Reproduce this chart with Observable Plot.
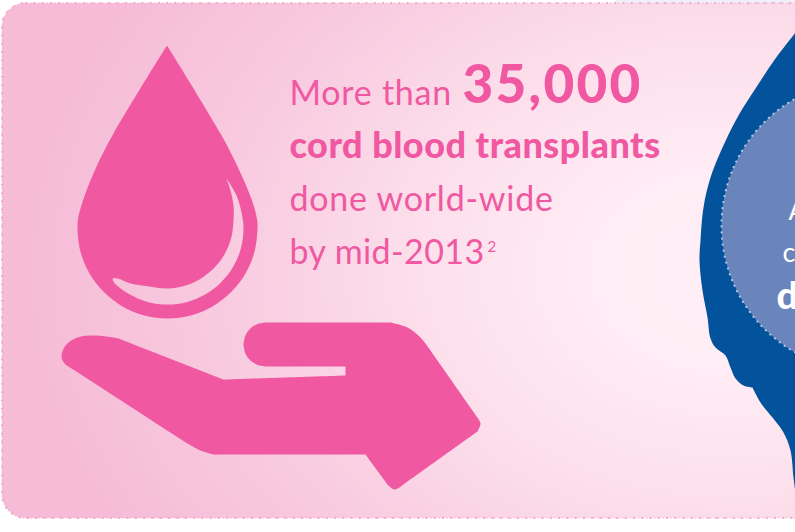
<!DOCTYPE html>
<html><head><meta charset="utf-8">
<script src="https://cdn.jsdelivr.net/npm/d3@7"></script>
<script src="https://cdn.jsdelivr.net/npm/@observablehq/plot@0.6"></script>
<style>
html,body{margin:0;padding:0;background:#fff;width:795px;height:532px;overflow:hidden}
svg{display:block;font-family:Lato,sans-serif}
.wide text{letter-spacing:.75px}
.num text{letter-spacing:2.3px}
.bold text{letter-spacing:.5px}
.year text{letter-spacing:.4px}
</style></head><body>
<script>
const PINK = "#f058a1", NAVY = "#02539b", DISC = "#6a85bc", DISC_DOT = "#b4c4e0", EDGE = "#f7a3ca";
const haze = [{x1: 615, x2: 795, y1: 0, y2: 5}];
const panel = [{x1: 2, x2: 830, y1: 3, y2: 518}];
const dropOutline = [[166.5,45],[166.5,45],[113,133],[95.6,167],[82.5,200],[77.6,218],[77,228],[80,251.3],[89,273],[103.4,291.6],[122,306],[143.7,315],[167,318],[190.3,315],[212,306],[230.6,291.6],[245,273],[254,251.3],[257,228],[256.4,218],[251.5,200],[237.5,167],[220,133],[166.5,45],[166.5,45]];
const glint = [[226,178],[226,178],[236,195],[241,212],[243,228],[240.4,247.7],[232.8,266],[220.7,281.7],[205,293.8],[186.7,301.4],[167,304],[147.3,301.4],[129,293.8],[113.3,281.7],[112,278],[112,278],[117,278],[130,283],[147.4,285.7],[165,288],[182.6,285.7],[199,278.9],[213.1,268.1],[223.9,254],[230.7,237.6],[233,220],[233,205],[230,190],[226,178],[226,178]];
const hand = [[243,344],[244.7,335.6],[249.4,328.4],[256.6,323.7],[265,322],[265,322],[390,322],[390,322],[407,327],[420,337],[430,350],[430,350],[477,417],[477,417],[480,423],[477,431],[477,431],[403,484],[403,484],[394,489],[387,484],[387,484],[365,454],[365,454],[213,454],[213,454],[200,450],[187,443],[187,443],[65,364],[65,364],[61,357],[65,345],[77,337],[95,335],[118,338],[118,338],[223,379],[223,379],[345,375],[345,375],[345,366],[345,366],[265,366],[265,366],[256.6,364.3],[249.4,359.6],[244.7,352.4],[243,344]];
const body = [[795,32],[795,32],[775,58],[755,88],[738,115],[722,147],[710,177],[703,207],[700,240],[699,260],[702,290],[707,317],[710,338],[715,347],[725,355],[730,367],[735,378],[743,385],[752,387],[752,387],[760,402],[772,417],[783,432],[790,450],[793,477],[795,493],[795,493],[830,493],[830,32],[795,32]];
const disc = [{x: 867, y: 225}];
const lines = [
  {t: "More than", x: 289, y: 104, s: 34, w: 400, c: "wide"},
  {t: "35,000", x: 462, y: 102, s: 53, w: 900, c: "num"},
  {t: "cord blood transplants", x: 289, y: 157, s: 36, w: 900, c: "bold"},
  {t: "done world-wide", x: 289, y: 210, s: 34, w: 400, c: "wide"},
  {t: "by mid-2013", x: 289, y: 263, s: 34, w: 400, c: "year"},
  {t: "2", x: 487, y: 251, s: 15, w: 400, c: "wide"}
];
const discText = [
  {t: "A", x: 788, y: 219, s: 26, w: 400},
  {t: "c", x: 782, y: 261, s: 27, w: 400},
  {t: "d", x: 776, y: 308, s: 38, w: 900}
];
const txt = (rows, fill, cls) => rows.map(r => Plot.text([r], {
  x: "x", y: "y", text: "t", fill, fontSize: r.s, fontWeight: r.w,
  textAnchor: "start", lineAnchor: "bottom", className: cls || r.c
}));
const shape = (pts, fill) => Plot.line(pts, {x: d => d[0], y: d => d[1], fill, stroke: "none", curve: "catmull-rom"});
const chart = Plot.plot({
  width: 795, height: 532, margin: 0,
  style: {background: "#fff"},
  x: {domain: [0, 795], range: [0, 795], axis: null},
  y: {domain: [0, 532], range: [0, 532], axis: null},
  marks: [
    () => {
      const s = d3.create("svg:defs");
      const g = s.append("radialGradient").attr("id", "bg").attr("gradientUnits", "userSpaceOnUse")
        .attr("cx", 0).attr("cy", 0).attr("r", 1)
        .attr("gradientTransform", "translate(730 270) scale(700 520)");
      [[0, "#ffeff6"], [.2, "#ffecf4"], [.45, "#fcdfeb"], [.75, "#f8c9df"], [1, "#f6bcd7"]]
        .forEach(([o, c]) => g.append("stop").attr("offset", o).attr("stop-color", c));
      return s.node();
    },
    Plot.rect(haze, {x1: "x1", x2: "x2", y1: "y1", y2: "y2", fill: "#eef1f8"}),
    Plot.rect(panel, {x1: "x1", x2: "x2", y1: "y1", y2: "y2", rx: 24, fill: "url(#bg)", stroke: EDGE, strokeOpacity: .55, strokeWidth: 1.2, strokeDasharray: "2 2"}),
    Plot.rect(panel, {x1: "x1", x2: "x2", y1: "y1", y2: "y2", rx: 24, fill: "none", stroke: EDGE, strokeWidth: 2.2, strokeDasharray: "0.1 8.2", strokeLinecap: "round"}),
    shape(dropOutline, PINK),
    shape(glint, "url(#bg)"),
    shape(hand, PINK),
    shape(body, NAVY),
    Plot.dot(disc, {x: "x", y: "y", r: 146, fill: DISC, stroke: DISC_DOT, strokeWidth: 2.2, strokeDasharray: "0.1 6", strokeLinecap: "round"}),
    ...txt(lines, PINK),
    ...txt(discText, "#fff", "plain")
  ]
});
document.body.appendChild(chart);
</script></body></html>
